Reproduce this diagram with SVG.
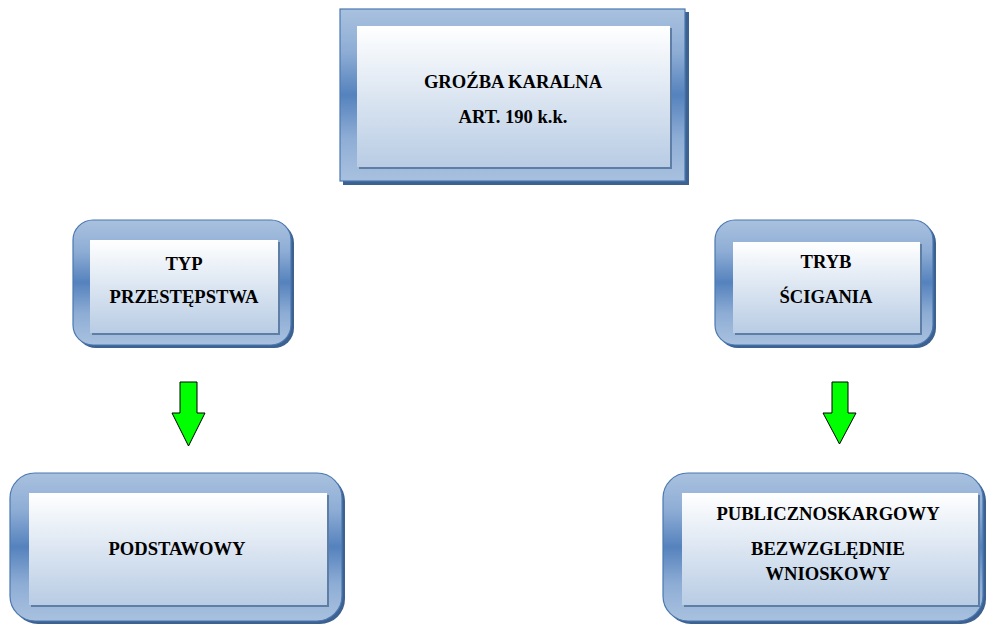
<svg xmlns="http://www.w3.org/2000/svg" width="986" height="627" viewBox="0 0 986 627">
<defs>
<linearGradient id="frame" x1="0" y1="0" x2="0" y2="1">
<stop offset="0" stop-color="#a9c1df"/>
<stop offset="0.25" stop-color="#8eadd5"/>
<stop offset="0.5" stop-color="#5582bd"/>
<stop offset="0.75" stop-color="#8eadd5"/>
<stop offset="1" stop-color="#a9c1df"/>
</linearGradient>
<linearGradient id="inner" x1="0" y1="0" x2="0" y2="1">
<stop offset="0" stop-color="#ffffff"/>
<stop offset="1" stop-color="#b8cce4"/>
</linearGradient>
<style>
.shadow{fill:#3d6190}
.frame{fill:url(#frame);stroke:#4a78b0;stroke-width:1.2}
.ishadow{fill:#5f7ea6}
.inner{fill:url(#inner)}
text{font-family:"Liberation Serif","DejaVu Serif",serif;font-weight:bold;font-size:18.6px;fill:#000;text-anchor:middle}
.arrow{fill:#00ff00;stroke:#000;stroke-width:1}
</style>
</defs>

<g id="node-top">
<rect class="shadow" x="343" y="12" width="346" height="173"/>
<rect class="frame" x="340" y="9" width="345" height="172"/>
<rect class="ishadow" x="359" y="28" width="313" height="141"/>
<rect class="inner" x="357" y="26" width="313" height="141"/>
<text x="513" y="88">GROŹBA KARALNA</text>
<text x="513" y="123">ART. 190 k.k.</text>
</g>

<g id="node-typ">
<rect class="shadow" x="76" y="223" width="218" height="125" rx="20"/>
<rect class="frame" x="73" y="220" width="218" height="125" rx="20"/>
<rect class="ishadow" x="92" y="242" width="188" height="93"/>
<rect class="inner" x="90" y="240" width="188" height="93"/>
<text x="184" y="270">TYP</text>
<text x="184" y="303">PRZESTĘPSTWA</text>
</g>

<g id="node-tryb">
<rect class="shadow" x="718" y="223" width="218" height="125" rx="20"/>
<rect class="frame" x="715" y="220" width="218" height="125" rx="20"/>
<rect class="ishadow" x="735" y="244" width="187" height="91"/>
<rect class="inner" x="733" y="242" width="187" height="91"/>
<text x="826" y="268">TRYB</text>
<text x="826" y="303">ŚCIGANIA</text>
</g>

<g id="node-podstawowy">
<rect class="shadow" x="13" y="476" width="332" height="148" rx="25"/>
<rect class="frame" x="10" y="473" width="332" height="148" rx="25"/>
<rect class="ishadow" x="31" y="495" width="298" height="112"/>
<rect class="inner" x="29" y="493" width="298" height="112"/>
<text x="177" y="555">PODSTAWOWY</text>
</g>

<g id="node-tryb-wynik">
<rect class="shadow" x="666" y="476" width="320" height="148" rx="25"/>
<rect class="frame" x="663" y="473" width="320" height="148" rx="25"/>
<rect class="ishadow" x="684" y="495" width="296" height="112"/>
<rect class="inner" x="682" y="493" width="296" height="112"/>
<text x="828" y="520">PUBLICZNOSKARGOWY</text>
<text x="828" y="555">BEZWZGLĘDNIE</text>
<text x="828" y="580">WNIOSKOWY</text>
</g>

<g id="connectors">
<polygon class="arrow" points="180,382 197,382 197,413 205,413 188.5,446 172,413 180,413"/>
<polygon class="arrow" points="832,382 848,382 848,413 856,413 839.5,444 823,413 832,413"/>
</g>
</svg>
